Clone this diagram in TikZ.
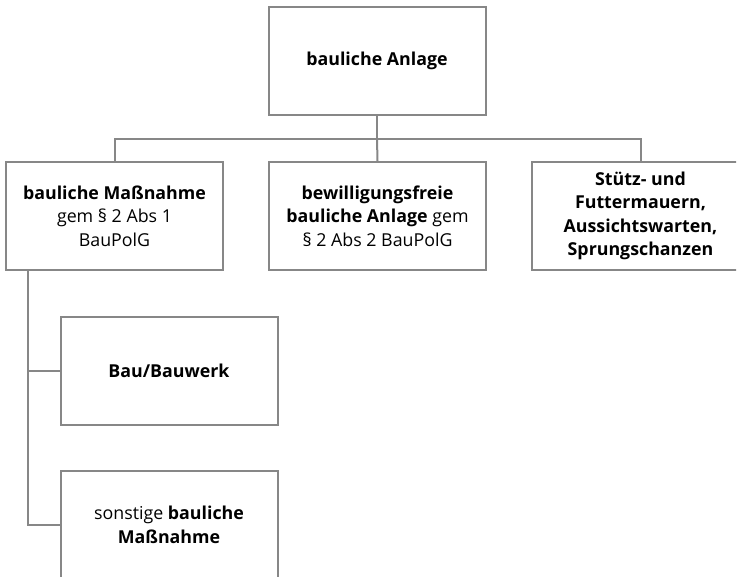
\documentclass[tikz,border=0pt]{standalone}
\usepackage{fontspec}
\setmainfont{Open Sans}
\begin{document}
\begin{tikzpicture}[x=1pt,y=-1pt,
  box/.style={draw=linegray, line width=2pt, minimum width=217pt, minimum height=108pt,
    align=center, inner sep=0pt, font=\fontsize{17.8}{23.5}\selectfont, text=black},
  conn/.style={draw=linegray, line width=2pt}]
\definecolor{linegray}{RGB}{135,135,135}
\useasboundingbox (0,0) rectangle (739,576);
\clip (0,0) rectangle (736,576);
\node[box] (top) at (377,61) {\textbf{bauliche Anlage}};
\node[box] (b1) at (114.5,216) {\textbf{bauliche Maßnahme}\\gem § 2 Abs 1\\BauPolG};
\node[box] (b2) at (377.5,216) {\textbf{bewilligungsfreie}\\\textbf{bauliche Anlage} gem\\§ 2 Abs 2 BauPolG};
\node[box] (b3) at (640.5,216) {\textbf{Stütz- und}\\\textbf{Futtermauern,}\\\textbf{Aussichtswarten,}\\\textbf{Sprungschanzen}};
\node[box] (bau) at (169,370.5) {\textbf{Bau/Bauwerk}};
\node[box] (sons) at (169,525) {sonstige \textbf{bauliche}\\\textbf{Maßnahme}};
\coordinate (hub) at (377,139);
\draw[conn] (top.south) -- (hub);
\draw[conn] (hub) -| (b1.north);
\draw[conn] (hub) -- (b2.north);
\draw[conn] (hub) -| (b3.north);
\coordinate (trunk) at (28,270);
\draw[conn] (trunk) |- (sons.west);
\draw[conn] (trunk |- bau.west) -- (bau.west);
\end{tikzpicture}
\end{document}
